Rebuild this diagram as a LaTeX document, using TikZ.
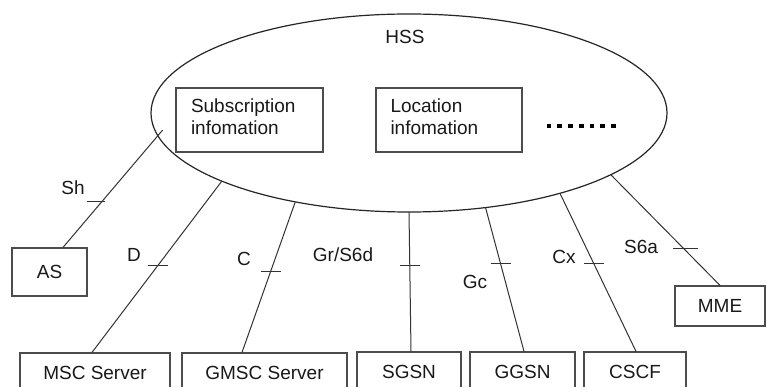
\documentclass[tikz,border=0pt]{standalone}
\usepackage{fontspec}
\setmainfont{Liberation Sans}
\usetikzlibrary{shapes.geometric,calc}
\begin{document}
\begin{tikzpicture}[x=1pt,y=-1pt,
  every node/.style={font=\fontsize{19}{22}\selectfont, text=black!90},
  box/.style={draw=black!70, line width=1.2pt, inner sep=0pt, align=center, text height=13pt, text depth=0pt},
  infobox/.style={draw=black!70, line width=1.2pt, inner sep=0pt, minimum height=64pt, text width=117pt, align=left},
  conn/.style={draw=black!80, line width=1pt},
  tick/.style={draw=black!80, line width=1pt},
  lab/.style={inner sep=0pt, text height=13pt, text depth=0pt},
  dotline/.style={draw=black, line width=4pt, dash pattern=on 4.7pt off 6pt}]
\useasboundingbox (0,0) rectangle (767,387);
\clip (0,0) rectangle (767,387);
\fill[white] (0,0) rectangle (767,387);

% HSS ellipse
\node[ellipse, draw=black!85, line width=1.2pt, minimum width=516pt, minimum height=198pt, inner sep=0pt, outer sep=0pt] (hss) at (409,113) {};
\node[lab] (hsslabel) at (405,37) {HSS};
\node[infobox, minimum width=147pt] (sub) at (249.5,120) {Subscription\\infomation\rule[-6pt]{0pt}{6pt}};
\node[infobox, minimum width=146pt] (loc) at (449,120) {Location\\infomation\rule[-6pt]{0pt}{6pt}};
\coordinate (dotsA) at (546.7,126);
\coordinate (dotsB) at (616,126);
\draw[dotline] (dotsA) -- (dotsB);

% peer boxes
\node[box, minimum width=75pt, minimum height=48pt] (as) at (49.5,272) {AS};
\node[box, minimum width=150pt, minimum height=40pt] (msc) at (95,373) {MSC Server};
\node[box, minimum width=165pt, minimum height=40pt] (gmsc) at (264.5,373) {GMSC Server};
\node[box, minimum width=104pt, minimum height=40pt] (sgsn) at (409,372) {SGSN};
\node[box, minimum width=105pt, minimum height=40pt] (ggsn) at (522.5,372) {GGSN};
\node[box, minimum width=102pt, minimum height=40pt] (cscf) at (635,372) {CSCF};
\node[box, minimum width=90pt, minimum height=40pt] (mme) at (720,306) {MME};

% connectors
\coordinate (shs) at (162.7,130);
\draw[conn] (shs) -- coordinate[pos=0.608] (tsh) ([xshift=13.5pt]as.north);
\draw[tick] (tsh) +(-15,0) -- +(3,0);

\draw[conn] (hss.200.8) -- coordinate[pos=0.491] (td) ([xshift=-3pt]msc.north);
\draw[tick] (td) +(-10,0) -- +(10,0);

\draw[conn] (hss.218.5) -- coordinate[pos=0.46] (tc) ([xshift=-22.5pt]gmsc.north);
\draw[tick] (tc) +(-10,0) -- +(10,0);

\draw[conn] (sgsn.north |- hss.south) -- coordinate[pos=0.386] (tg) ([xshift=2pt]sgsn.north);
\draw[tick] (tg) +(-10,0) -- +(10,0);

\draw[conn] (hss.309) -- coordinate[pos=0.389] (tgc) ([xshift=1.5pt]ggsn.north);
\draw[tick] (tgc) +(-10,0) -- +(10,0);

\draw[conn] (hss.332.2) -- coordinate[pos=0.447] (tcx) ([xshift=1pt]cscf.north);
\draw[tick] (tcx) +(-10,0) -- +(10,0);

\draw[conn] (hss.343.8) -- coordinate[pos=0.664] (ts6) (mme.north);
\draw[tick] (ts6) +(-10,0) -- +(15,0);

% interface labels
\node[lab] (lsh) at (73,188) {Sh};
\node[lab] (ld) at (134,255) {D};
\node[lab] (lc) at (244,259) {C};
\node[lab] (lgr) at (343,255) {Gr/S6d};
\node[lab] (lgc) at (475,282) {Gc};
\node[lab] (lcx) at (564,257) {Cx};
\node[lab] (ls6a) at (641,247) {S6a};
\end{tikzpicture}
\end{document}
